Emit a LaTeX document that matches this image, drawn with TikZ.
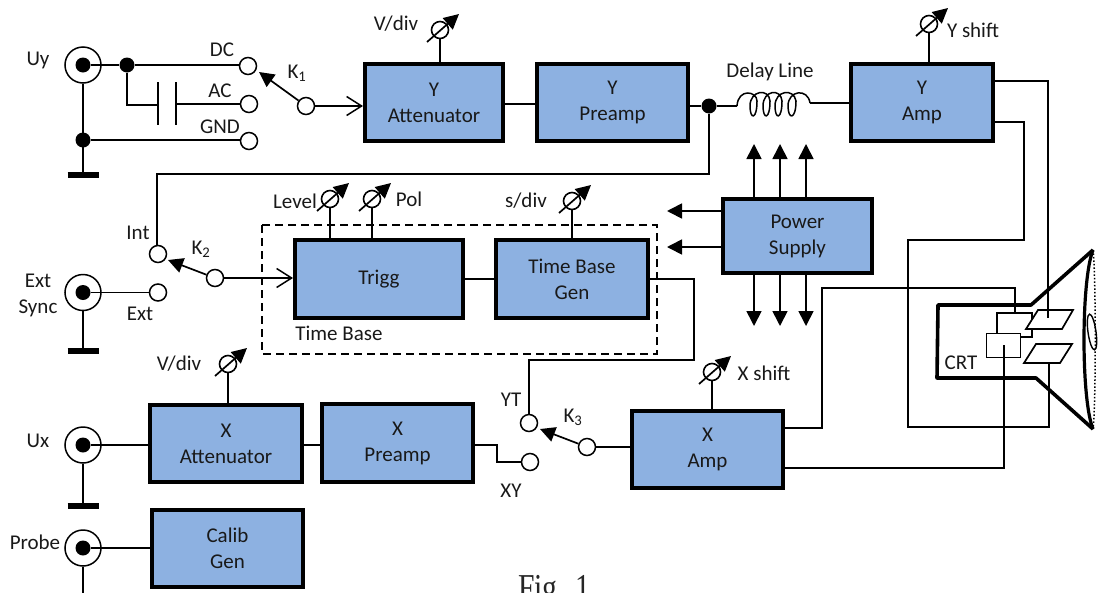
\documentclass[tikz,border=0pt]{standalone}
\usepackage{fontspec}
\setmainfont{Carlito}
\newfontfamily\figfont{Liberation Serif}
\usetikzlibrary{arrows.meta,calc}
\tikzset{
  x=1pt,y=-1pt,
  block/.style={draw=black,line width=3.8pt,fill=blockblue,minimum width=0pt,inner sep=0pt,align=center,font=\fontsize{21}{26}\selectfont,text=black!90},
  wire/.style={draw=black,line width=1.7pt},
  thin wire/.style={draw=black,line width=1.4pt},
  contact/.style={circle,draw=black,line width=1.5pt,fill=white,minimum size=17pt,inner sep=0pt},
  jack/.style={circle,draw=black,line width=1.5pt,fill=white,minimum size=36pt,inner sep=0pt},
  knobc/.style={circle,draw=black,line width=1.6pt,minimum size=17pt,inner sep=0pt},
  dot/.style={circle,fill=black,minimum size=15pt,inner sep=0pt},
  core/.style={circle,fill=black,minimum size=15pt,inner sep=0pt},
  lab/.style={font=\fontsize{21}{26}\selectfont,text=black!90,inner sep=0pt},
  solid head/.style={-{Triangle[length=15pt,width=15pt]},line width=1.7pt},
  open head/.style={-{Straight Barb[length=15pt,width=19pt,line width=1.5pt]},line width=1.6pt},
  gnd/.style={draw=black,line width=5.5pt}
}
\definecolor{blockblue}{HTML}{8DB1E1}
\newcommand{\mkblock}[6]{\node[block,minimum width=#4pt-#2pt-3.8pt,minimum height=#5pt-#3pt-3.8pt,anchor=center] (#1) at ({(#2+#4)/2},{(#3+#5)/2}) {#6};}
\newcommand{\mkknob}[4]{%
  \node[knobc] (#1) at (#2,#3) {};
  \coordinate (#1a) at ($(#1)+(-13,12)$);
  \coordinate (#1b) at ($(#1)+(19,-16)$);
  \draw[solid head] (#1a) -- (#1b);
  \draw[wire] (#1.south) -- (#4);
}
\newcommand{\mkjack}[3]{%
  \node[jack] (#1) at (#2,#3) {};
  \node[core] (#1c) at (#2,#3) {};
}
\begin{document}
\begin{tikzpicture}
\useasboundingbox (0,0) rectangle (1099,592);
\fill[white] (0,0) rectangle (1099,592);

% Blocks
\mkblock{yatt}{363}{62}{505}{143}{Y\\Attenuator}
\mkblock{ypre}{535}{62}{690}{143}{Y\\Preamp}
\mkblock{yamp}{849}{62}{995}{143}{Y\\Amp}
\mkblock{psu}{721}{197}{874}{275}{Power\\Supply}
\mkblock{trigg}{293}{238}{465}{320}{Trigg}
\mkblock{tbg}{494}{238}{650}{320}{Time Base\\Gen}
\mkblock{xatt}{148}{403}{304}{484}{X\\Attenuator}
\mkblock{xpre}{320}{402}{475}{484}{X\\Preamp}
\mkblock{xamp}{630}{409}{785}{490}{X\\Amp}
\mkblock{cal}{150}{508}{305}{589}{Calib\\Gen}

% Time base dashed frame
\draw[black,line width=1.5pt,dash pattern=on 8pt off 5pt] (262,225) rectangle (657,354);
\node[lab] (tbl) at (339,333) {Time Base};

% Jacks
\mkjack{juy}{83}{65}
\mkjack{jes}{83}{292.5}
\mkjack{jux}{83}{445}
\mkjack{jpr}{83}{548}
\coordinate (guy) at (83,175);
\coordinate (ges) at (83,351);
\coordinate (gux) at (83,506);
\coordinate (gpr) at (83,600);
\draw[wire] (juy.south) -- (guy);
\draw[wire] (jes.south) -- (ges);
\draw[wire] (jux.south) -- (gux);
\draw[wire] (jpr.south) -- (gpr);
\foreach \g in {guy,ges,gux,gpr}{\draw[gnd] ($(\g)+(-15.5,0)$) -- ($(\g)+(15.5,0)$);}

% Input Y
\node[dot] (d1) at (127,65) {};
\node[dot] (d2) at (83,140) {};
\node[contact] (cdc) at (248,66) {};
\node[contact] (cac) at (249,104) {};
\node[contact] (cgnd) at (249,141) {};
\node[contact] (k1) at (306,106) {};
\coordinate (capa) at (158,105);
\coordinate (capb) at (176,104);
\draw[wire] (juyc) -- (d1);
\draw[wire] (d1) -- (cdc.west |- d1);
\draw[wire] (d1) |- (capa);
\draw[wire] (capb) -- (cac);
\draw[wire] (d2) -- (cgnd.west |- d2);
\draw[wire] (158,82) -- (158,125);
\draw[wire] (176,82) -- (176,125);
\coordinate (k1t) at (259,72);
\draw[solid head] (k1) -- (k1t);
\draw[open head] (k1) -- (yatt.west |- k1);
\node[lab] at (222,50) {DC};
\node[lab] at (220,91) {AC};
\node[lab] at (220,127) {GND};
\node[lab] at (38,60) {Uy};
\node[lab] at (297,73) {K\textsubscript{1}};

% Y path
\draw[wire] (505,104) -- (535,104);
\node[dot] (d3) at (709,106) {};
\draw[wire] (690,106) -- (d3);
\coordinate (cs) at (737,106);
\coordinate (ce) at (810,103);
\draw[wire] (d3) -- (cs);
\draw[wire,line width=1.5pt] (cs) .. controls (738,88) and (757,91) .. (757,101)
  .. controls (757,120) and (750,120) .. (750,106) .. controls (750,90) and (769,88) .. (770,101)
  .. controls (770,120) and (763,120) .. (763,106) .. controls (763,90) and (781,88) .. (782,101)
  .. controls (782,120) and (775,120) .. (775,106) .. controls (775,90) and (794,88) .. (796,101)
  .. controls (796,120) and (788,120) .. (788,106) .. controls (788,90) and (808,88) .. (ce);
\draw[wire] (ce) -- (849,103);
\node[lab] at (770,72) {Delay Line};

% Int / Ext
\node[contact] (cint) at (158,254) {};
\node[contact] (cext) at (158,292.5) {};
\node[contact] (k2) at (215,278) {};
\coordinate (k2t) at (168,260);
\draw[wire] (d3) |- (157,174) -- (cint.north -| 157,174);
\draw[wire] (jesc) -- (cext);
\draw[solid head] (k2) -- (k2t);
\draw[open head] (k2) -- (293,278);
\node[lab] at (138,233) {Int};
\node[lab] at (140,314) {Ext};
\node[lab,align=center] at (38,295) {Ext\\Sync};
\node[lab] at (201,249) {K\textsubscript{2}};

% Time base
\draw[wire] (465,279) -- (494,279);
\node[contact] (cyt) at (529,423) {};
\node[contact] (cxy) at (530,462) {};
\node[contact] (k3) at (587,447) {};
\coordinate (k3t) at (540,429);
\draw[wire] (650,279) -- (694,279) -- (694,360) -- (529,360) -- (cyt);
\draw[wire] (475,445) -- (497,445) -- (497,462) -- (cxy);
\draw[solid head] (k3) -- (k3t);
\draw[wire] (k3) -- (630,447);
\node[lab] at (511,400) {YT};
\node[lab] at (511,491) {XY};
\node[lab] at (573,417) {K\textsubscript{3}};

% X input
\draw[wire] (juxc) -- (148,445);
\draw[wire] (304,445) -- (320,445);
\draw[wire] (jprc) -- (150,548);
\node[lab] at (38,441) {Ux};
\node[lab] at (35,542) {Probe};

% Knobs
\mkknob{kv1}{440}{30}{440,62}
\mkknob{ky}{929}{24}{929,62}
\mkknob{kl}{330}{199}{330,238}
\mkknob{kp}{372}{199}{372,238}
\mkknob{ks}{572}{201}{572,238}
\mkknob{kv2}{228}{364}{228,403}
\mkknob{kx}{712}{372}{712,409}
\node[lab] at (396,24) {V/div};
\node[lab] at (973,30) {Y shift};
\node[lab] at (295,201) {Level};
\node[lab] at (409,199) {Pol};
\node[lab] at (526,201) {s/div};
\node[lab] at (179,364) {V/div};
\node[lab] at (764,373) {X shift};

% Power arrows
\foreach \i/\x in {1/754,2/780,3/806}{
  \coordinate (up\i) at (\x,144);
  \coordinate (dn\i) at (\x,326);
  \draw[solid head] (\x,197) -- (up\i);
  \draw[solid head] (\x,275) -- (dn\i);
}
\coordinate (lf1) at (667,211);
\coordinate (lf2) at (667,247);
\draw[solid head] (721,211) -- (lf1);
\draw[solid head] (721,247) -- (lf2);

% CRT
\draw[black,line width=3.6pt,line join=round] (1093,250) -- (1031,305) -- (938,305) -- (937,378) -- (1036,378) -- (1093,429);
\draw[black,line width=3.2pt] (1093,250) .. controls (1081,280) and (1081,400) .. (1093,429);
\draw[black,line width=1.5pt,dotted] (1093,250) .. controls (1096,270) and (1096,410) .. (1093,429);
\draw[black,line width=1.2pt] (997,337) -- (997,313) -- (1032,313) -- (1032,337) -- cycle;
\draw[wire,fill=white] (1026,329) -- (1038,310) -- (1073,310) -- (1062,329) -- cycle;
\draw[wire,fill=white] (1024,363) -- (1036,344) -- (1072,344) -- (1060,363) -- cycle;
\node[draw=black,line width=1.4pt,fill=white,minimum width=34pt,minimum height=24pt,inner sep=0pt] (gun) at (1003.5,345.5) {};
\node[lab] at (961,363) {CRT};
\draw[black,line width=1.4pt,rotate around={8:(1092,332)}] (1092,332) ellipse (4 and 18);

% Deflection wiring
\draw[thin wire] (995,81) -- (1048,81) -- (1048,318);
\draw[wire] (995,122) -- (1024,122) -- (1024,240) -- (908,240) -- (908,427) -- (1049,427) -- (1049,363);
\draw[thin wire] (785,428) -- (822,428) -- (822,288) -- (1015,288) -- (1015,313);
\draw[thin wire] (785,468) -- (1004,468) -- (1004,345);

\node[font=\figfont\fontsize{38}{40}\selectfont,text=black!85,anchor=base,xscale=0.78] (figl) at (554,600) {Fig. 1};
\end{tikzpicture}
\end{document}
